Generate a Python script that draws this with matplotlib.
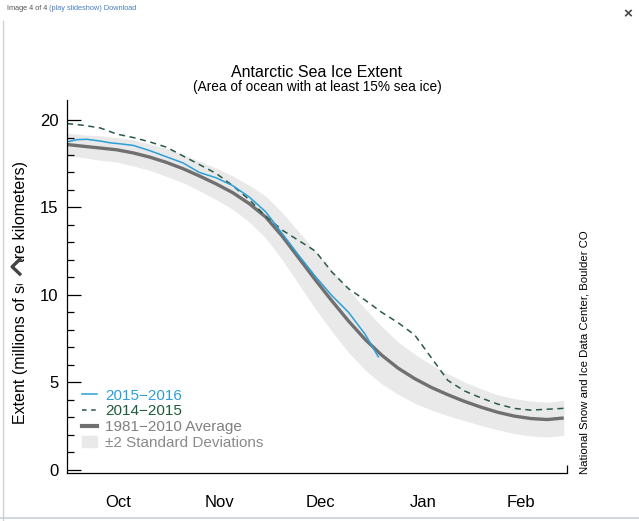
import numpy as np
import matplotlib
matplotlib.use('Agg')
import matplotlib.pyplot as plt
from matplotlib.patches import Patch, Rectangle
from matplotlib.lines import Line2D

plt.rcParams['font.family'] = ['Liberation Sans', 'DejaVu Sans']

# days since 1 October
days = list(range(0, 151, 5))
avg_8110 = [18.6, 18.5, 18.4, 18.3, 18.12, 17.88, 17.58, 17.22, 16.8, 16.35,
            15.85, 15.22, 14.45, 13.35, 12.1, 10.85, 9.65, 8.5, 7.45, 6.55,
            5.8, 5.2, 4.7, 4.28, 3.9, 3.57, 3.28, 3.06, 2.92, 2.86, 2.95]
two_std = [0.65, 0.65, 0.7, 0.7, 0.75, 0.75, 0.8, 0.8, 0.85, 0.9,
           0.95, 1.05, 1.2, 1.35, 1.5, 1.65, 1.75, 1.8, 1.75, 1.65,
           1.5, 1.4, 1.3, 1.2, 1.1, 1.05, 1.0, 1.0, 1.0, 1.0, 1.0]
ext_1415 = [19.8, 19.7, 19.55, 19.2, 19.0, 18.75, 18.45, 17.95, 17.45, 16.95,
            16.25, 15.45, 14.5, 13.7, 13.1, 12.5, 11.3, 10.35, 9.7, 9.0,
            8.4, 7.7, 6.4, 5.1, 4.5, 4.1, 3.75, 3.5, 3.4, 3.45, 3.5]
days_1516 = [0, 3, 6, 10, 13, 17, 20, 25, 30, 35, 40, 45, 50, 55, 60, 65,
             70, 75, 80, 85, 90, 94]
ext_1516 = [18.75, 18.88, 18.9, 18.8, 18.7, 18.62, 18.55, 18.25, 17.9, 17.55,
            17.0, 16.7, 16.25, 15.6, 14.75, 13.5, 12.25, 11.05, 9.95, 9.0,
            7.75, 6.45]
months = ['Oct', 'Nov', 'Dec', 'Jan', 'Feb']
month_mid = [15.5, 46, 76.5, 107.5, 137]

c_blue = '#2b9fd8'
c_green = '#2a5a45'
c_avg = '#707070'
c_band = '#e9e9e9'

fig = plt.figure(figsize=(6.39, 5.21), dpi=100)
ax = fig.add_axes([0.1049, 0.0921, 0.7825, 0.716])

lo = np.array(avg_8110) - np.array(two_std)
hi = np.array(avg_8110) + np.array(two_std)
ax.fill_between(days, lo, hi, color=c_band, lw=0)
ax.plot(days, avg_8110, color=c_avg, lw=2.4, solid_capstyle='butt')
ax.plot(days, ext_1415, color=c_green, lw=1.1, dashes=(4, 3))
ax.plot(days_1516, ext_1516, color=c_blue, lw=1.1)

ax.set_xlim(0, 151)
ax.set_ylim(-0.2, 21.15)
for s in ['top', 'right']:
    ax.spines[s].set_visible(False)
for s in ['left', 'bottom']:
    ax.spines[s].set_linewidth(0.9)

ax.set_yticks([0, 5, 10, 15, 20])
ax.set_yticks(range(0, 21), minor=True)
ax.tick_params(axis='y', which='major', direction='in', length=10, width=0.9,
               labelsize=12, pad=6)
ax.tick_params(axis='y', which='minor', direction='in', length=5, width=0.9)
ax.set_xticks(month_mid)
ax.set_xticklabels(months)
ax.set_xticks([151], minor=True)
ax.tick_params(axis='x', which='major', length=0, labelsize=12, pad=16)
ax.tick_params(axis='x', which='minor', direction='in', length=6, width=0.9)

ax.set_ylabel('Extent (millions of square kilometers)', fontsize=11.5)
ax.yaxis.set_label_coords(-0.079, 0.485)

fig.text(0.496, 0.853, 'Antarctic Sea Ice Extent', ha='center', fontsize=11.5)
fig.text(0.496, 0.826, '(Area of ocean with at least 15% sea ice)',
         ha='center', fontsize=9.8)
fig.text(0.914, 0.324, 'National Snow and Ice Data Center, Boulder CO',
         rotation=90, ha='center', va='center', fontsize=8.2)

handles = [Line2D([], [], color=c_blue, lw=1.1),
           Line2D([], [], color=c_green, lw=1.1, dashes=(3, 3)),
           Line2D([], [], color=c_avg, lw=3),
           Patch(color=c_band)]
labels = ['2015\u22122016', '2014\u22122015', '1981\u22122010 Average',
          '\u00b12 Standard Deviations']
leg = ax.legend(handles, labels, loc='lower left', bbox_to_anchor=(0.018, 0.045),
                frameon=False, fontsize=11, handlelength=1.0, handletextpad=0.5,
                labelspacing=0.12, borderaxespad=0)
for t, c in zip(leg.get_texts(), [c_blue, '#1d5c3a', '#808080', '#8a8a8a']):
    t.set_color(c)

# screenshot chrome
fig.text(0.011, 0.991, 'Image 4 of 4', fontsize=5.3, color='#555555', va='top')
fig.text(0.077, 0.991, '(play slideshow) Download', fontsize=5.3,
         color='#4a7fc0', va='top')
fig.text(0.983, 0.986, '\u00d7', fontsize=11, color='#444444', va='top',
         ha='center', fontweight='bold')
fig.add_artist(Line2D([0.005, 0.005], [0.0, 0.96], color='#d0d0d0', lw=1))
fig.add_artist(Line2D([0, 1], [0.006, 0.006], color='#c8d0dc', lw=1.2))
fig.add_artist(Rectangle((0.012, 0.456), 0.034, 0.041, color='white'))
fig.add_artist(Line2D([0.031, 0.019, 0.031], [0.474, 0.488, 0.502],
                      color='#444444', lw=2.4))

fig.savefig('out.png', dpi=100)
